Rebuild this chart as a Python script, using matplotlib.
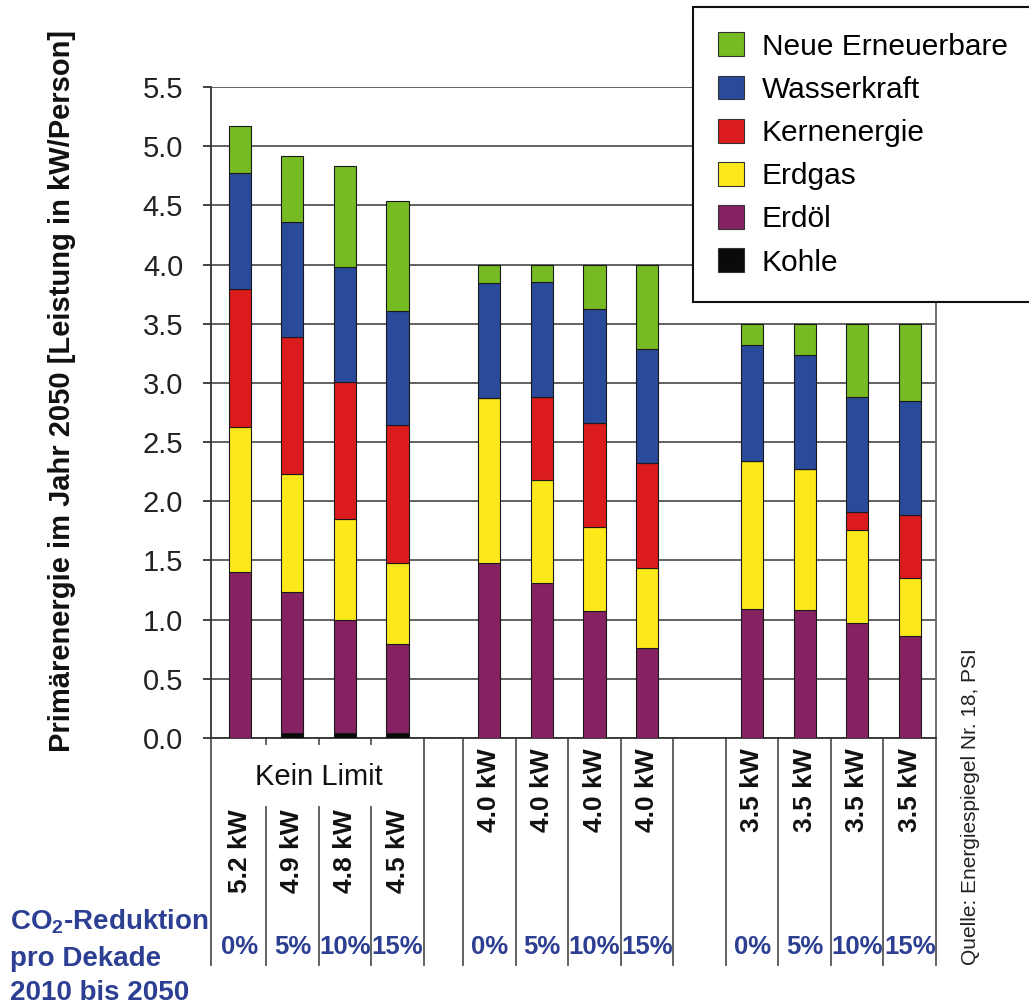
import numpy as np
import matplotlib
matplotlib.use("Agg")
import matplotlib.pyplot as plt
from matplotlib.patches import Patch
from matplotlib.ticker import FormatStrFormatter
from matplotlib.transforms import blended_transform_factory

plt.rcParams["font.family"] = ["Liberation Sans", "DejaVu Sans"]
plt.rcParams["mathtext.fontset"] = "custom"
plt.rcParams["mathtext.bf"] = "Liberation Sans:bold"
plt.rcParams["mathtext.rm"] = "Liberation Sans:bold"

# Primärenergie 2050 in kW/Person, je Szenario (Limit x CO2-Reduktion)
GROUPS = ["Kein Limit", "4.0 kW", "3.5 kW"]
REDUKTION = ["0%", "5%", "10%", "15%"]

kohle  = [0.00, 0.04, 0.04, 0.04, 0.00, 0.00, 0.00, 0.00, 0.00, 0.00, 0.00, 0.00]
erdoel = [1.40, 1.19, 0.96, 0.75, 1.48, 1.31, 1.07, 0.76, 1.09, 1.08, 0.97, 0.86]
erdgas = [1.23, 1.00, 0.85, 0.69, 1.39, 0.87, 0.71, 0.68, 1.25, 1.19, 0.79, 0.49]
kern   = [1.16, 1.16, 1.16, 1.165, 0.00, 0.705, 0.88, 0.88, 0.00, 0.00, 0.15, 0.53]
wasser = [0.98, 0.97, 0.97, 0.965, 0.97, 0.965, 0.965, 0.97, 0.98, 0.97, 0.97, 0.97]
neu    = [0.40, 0.56, 0.85, 0.93, 0.16, 0.15, 0.375, 0.71, 0.18, 0.26, 0.62, 0.65]

series = [
    ("Kohle", kohle, "#0a0a0a"),
    ("Erdöl", erdoel, "#862262"),
    ("Erdgas", erdgas, "#fde81c"),
    ("Kernenergie", kern, "#dc1c1c"),
    ("Wasserkraft", wasser, "#2a4a9c"),
    ("Neue Erneuerbare", neu, "#76bb22"),
]

BLUE = "#2c3f92"

W, H = 1029, 1008
fig = plt.figure(figsize=(W / 100, H / 100), dpi=100)
ax = fig.add_axes([211 / W, 1 - 738 / H, (936 - 211) / W, (738 - 87) / H])

def fy(p):
    return 1 - p / H

# group layout: 4 bars per group, first gap narrower than the second
group_starts = [0.0, 4.75, 9.75]
x = np.array([s + i + 0.5 for s in group_starts for i in range(4)])

bottom = np.zeros(len(x))
for name, vals, col in series:
    ax.bar(x, vals, bottom=bottom, width=0.42, color=col,
           edgecolor="#1a1a1a", linewidth=0.8, zorder=3)
    bottom += np.array(vals)
totals = bottom

ax.set_xlim(-0.05, 13.75)
ax.set_ylim(0, 5.5)
ax.set_yticks(np.arange(0, 5.51, 0.5))
ax.yaxis.set_major_formatter(FormatStrFormatter("%.1f"))
ax.tick_params(axis="y", labelsize=21, length=6, width=1.2, pad=14,
               colors="#222222", direction="out")
ax.set_xticks([])
ax.yaxis.grid(True, color="#555555", linewidth=1.3)
ax.set_axisbelow(True)
ax.spines["top"].set_visible(False)
ax.spines["right"].set_color("#666666")
ax.spines["left"].set_color("#333333")
ax.spines["bottom"].set_color("#333333")
for s in ["left", "right", "bottom"]:
    ax.spines[s].set_linewidth(1.3)

fig.text(62 / W, fy(391), "Primärenergie im Jahr 2050 [Leistung in kW/Person]",
         rotation=90, ha="center", va="center", fontsize=21,
         fontweight="bold", color="#111111")

# category area below the axis
tr = blended_transform_factory(ax.transData, fig.transFigure)
line_kw = dict(color="#555555", linewidth=1.3, transform=tr, clip_on=False)

full = [-0.05, 4] + [s + i for s in group_starts[1:] for i in range(5)]
for xv in full:
    ax.plot([xv, xv], [fy(738), fy(965)], **line_kw)
for xv in [1, 2, 3]:
    ax.plot([xv, xv], [fy(738), fy(744)], **line_kw)
    ax.plot([xv, xv], [fy(807), fy(965)], **line_kw)

ax.text(2, fy(777), GROUPS[0], transform=tr, ha="center", va="center",
        fontsize=21, color="#111111")

for i, xv in enumerate(x):
    top = fy(809) if i < 4 else fy(748)
    ax.text(xv, top, f"{totals[i]:.1f} kW", transform=tr, rotation=90,
            ha="center", va="top", fontsize=19, fontweight="bold",
            color="#111111")
    ax.text(xv, fy(947), REDUKTION[i % 4], transform=tr, ha="center",
            va="center", fontsize=18.5, fontweight="bold", color=BLUE)

fig.text(10 / W, fy(922), r"CO$_\mathbf{2}$-Reduktion", ha="left", va="center",
         fontsize=20, fontweight="bold", color=BLUE)
fig.text(10 / W, fy(959), "pro Dekade", ha="left", va="center",
         fontsize=20, fontweight="bold", color=BLUE)
fig.text(10 / W, fy(993), "2010 bis 2050", ha="left", va="center",
         fontsize=20, fontweight="bold", color=BLUE)

fig.text(970 / W, fy(965), "Quelle: Energiespiegel Nr. 18, PSI", rotation=90,
         ha="center", va="bottom", fontsize=15, color="#222222")

handles = [Patch(facecolor=col, edgecolor="#333333", linewidth=0.8)
           for _, _, col in reversed(series)]
labels = [name for name, _, _ in reversed(series)]
leg = fig.legend(handles, labels, loc="upper left",
                 bbox_to_anchor=(693 / W, fy(7)), borderaxespad=0,
                 fontsize=21.5, frameon=True, fancybox=False,
                 handlelength=0.85, handleheight=0.85, handletextpad=0.6,
                 labelspacing=0.5, borderpad=0.85)
leg.get_frame().set_edgecolor("#111111")
leg.get_frame().set_linewidth(1.5)
leg.get_frame().set_alpha(1)

fig.savefig("out.png", dpi=100, facecolor="white")
